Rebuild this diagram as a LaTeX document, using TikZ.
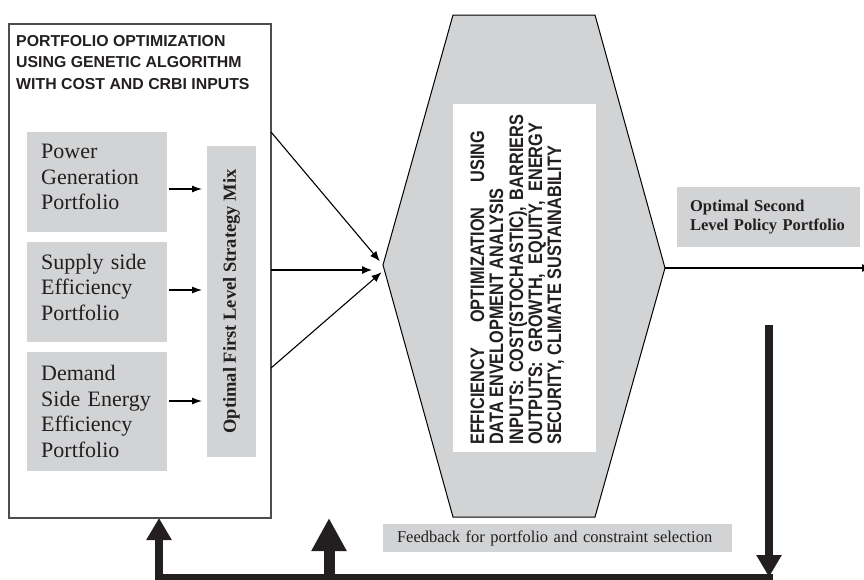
\documentclass[tikz,border=0pt]{standalone}
\usepackage{fontspec}
\setmainfont{Liberation Serif}
\setsansfont{Liberation Sans}
\usetikzlibrary{arrows.meta,calc}
\definecolor{boxgray}{HTML}{D1D3D4}
\definecolor{framegray}{HTML}{4D4D4D}
\definecolor{inkgray}{HTML}{231F20}
\newcommand{\hexline}[2]{\scalebox{0.835}[1]{\makebox[#1][s]{#2}}}
\newcommand{\hexnat}[1]{\scalebox{0.835}[1]{#1}}
\begin{document}
\begin{tikzpicture}[x=1pt,y=-1pt,
  graybox/.style={fill=boxgray, draw=none, inner sep=0pt, outer sep=0pt, text=inkgray},
  portbox/.style={graybox, anchor=north west, minimum width=140pt},
  porttext/.style={anchor=west, text width=112pt, inner sep=0pt, align=left, text=inkgray,
    font=\fontsize{22pt}{25.5pt}\selectfont},
  thinarrow/.style={line width=1.1pt, -{Latex[length=10pt,width=8pt]}},
  smallarrow/.style={line width=1.1pt, -{Latex[length=10pt,width=7pt]}},
  fatarrow/.style={line width=8pt, -{Triangle[length=22pt,width=24pt]}},
  bigfatarrow/.style={line width=11pt, -{Triangle[length=33pt,width=33pt]}},
  hextext/.style={rotate=90, anchor=base west, inner sep=0pt, text=inkgray,
    font=\sffamily\bfseries\fontsize{19.5pt}{19.5pt}\selectfont}]
\useasboundingbox (0,0) rectangle (864,579);

% left frame
\node[draw=framegray, line width=1.3pt, minimum width=262pt, minimum height=494pt,
  anchor=north west, inner sep=0pt, outer sep=0pt] (gabox) at (9,24) {};
\node[anchor=north west, align=left, inner sep=0pt, text=inkgray,
  font=\sffamily\bfseries\fontsize{15.85pt}{21.7pt}\selectfont] (title) at (16,35)
  {PORTFOLIO OPTIMIZATION\\USING GENETIC ALGORITHM\\WITH COST AND CRBI INPUTS};

\node[portbox, minimum height=100pt] (power) at (27,132) {};
\node[porttext] (powertxt) at ($(power.west)+(14,-5)$) {Power\\Generation\\Portfolio};
\node[portbox, minimum height=100pt] (supply) at (27,242) {};
\node[porttext] (supplytxt) at ($(supply.west)+(14,-5)$) {Supply side\\Efficiency\\Portfolio};
\node[portbox, minimum height=119pt] (demand) at (27,352) {};
\node[porttext] (demandtxt) at ($(demand.west)+(14,0)$) {Demand\\Side Energy\\Efficiency\\Portfolio};

\node[graybox, rotate=90, minimum width=311pt, minimum height=49pt,
  font=\bfseries\fontsize{18.5pt}{20pt}\selectfont] (mix) at (231.5,301.5)
  {Optimal First Level Strategy Mix};

\draw[smallarrow, shorten <=2pt, shorten >=5pt] (power.east |- 0,189) -- (mix.north |- 0,189);
\draw[smallarrow, shorten <=2pt, shorten >=5pt] (supply.east |- 0,290) -- (mix.north |- 0,290);
\draw[smallarrow, shorten <=2pt, shorten >=5pt] (demand.east |- 0,401) -- (mix.north |- 0,401);

% hexagon
\coordinate (hexL) at (383,265);
\coordinate (hexR) at (665,268);
\draw[fill=boxgray, line width=1pt, line join=miter] (453,15) -- (595,15) -- (hexR)
  -- (595,517) -- (453,517) -- (hexL) -- cycle;
\node[fill=white, minimum width=143pt, minimum height=348pt, anchor=north west,
  inner sep=0pt, outer sep=0pt] (dea) at (453,104) {};
\node[hextext] (l1) at (484,445) {\hexline{376pt}{EFFICIENCY OPTIMIZATION USING}};
\node[hextext] (l2) at (503,445) {\hexnat{DATA ENVELOPMENT ANALYSIS}};
\node[hextext] (l3) at (523,445) {\hexline{395pt}{INPUTS: COST(STOCHASTIC), BARRIERS}};
\node[hextext] (l4) at (542,445) {\hexline{385.6pt}{OUTPUTS: GROWTH, EQUITY, ENERGY}};
\node[hextext] (l5) at (561,445) {\hexnat{SECURITY, CLIMATE SUSTAINABILITY}};

% fan-in arrows
\coordinate (f1) at (gabox.east |- 0,132);
\coordinate (f2) at (gabox.east |- 0,270);
\coordinate (f3) at (gabox.east |- 0,368);
\coordinate (t3) at (383,271);
\draw[thinarrow, shorten >=5pt] (f1) -- (hexL);
\draw[thinarrow, shorten >=11pt] (f2) -- (f2 -| hexL);
\draw[thinarrow, shorten >=2pt] (f3) -- (t3);

% output
\node[graybox, anchor=north west, minimum width=183pt, minimum height=60pt,
  text width=157pt, inner xsep=13pt, align=left,
  font=\bfseries\fontsize{16.5pt}{18.5pt}\selectfont] (second) at (677,187)
  {Optimal Second\\Level Policy Portfolio};
\coordinate (outR) at (872,268);
\draw[thinarrow, line width=1.3pt] (hexR) -- (outR);

% feedback
\node[graybox, anchor=north west, minimum width=349pt, minimum height=28pt,
  text width=321pt, inner xsep=14pt, align=left,
  font=\fontsize{16.5pt}{18pt}\selectfont] (fb) at (383,524)
  {Feedback for portfolio and constraint selection};
\coordinate (fbtop) at (769,325);
\coordinate (fbcorner) at (769,577);
\coordinate (fbleft) at (159,577);
\coordinate (fbmid) at (329,577);
\draw[line width=6pt, draw=inkgray] ($(fbcorner)+(4,0)$) -- ($(fbleft)+(-4,0)$);
\draw[fatarrow, draw=inkgray] (fbtop) -- (fbcorner);
\draw[fatarrow, draw=inkgray] (fbleft) -- (gabox.south -| fbleft);
\draw[bigfatarrow, draw=inkgray] (fbmid) -- (gabox.south -| fbmid);
\end{tikzpicture}
\end{document}
